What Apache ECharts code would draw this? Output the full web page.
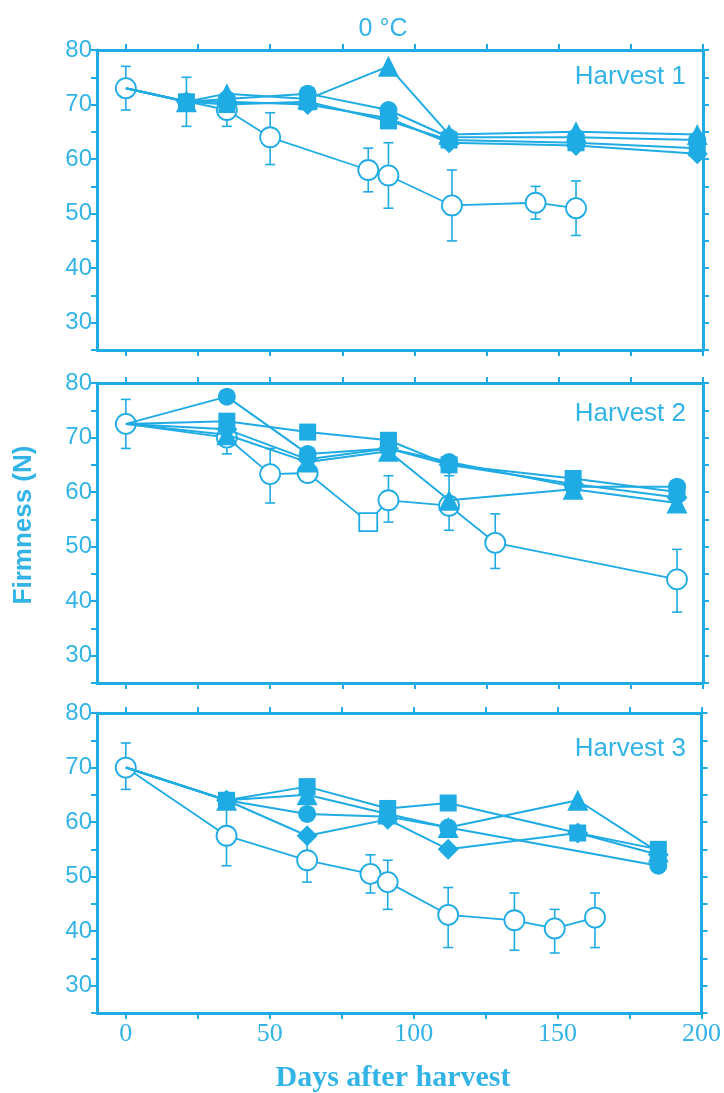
<!DOCTYPE html>
<html><head><meta charset="utf-8">
<script src="https://cdn.jsdelivr.net/npm/echarts@6/dist/echarts.min.js"></script>
<style>html,body{margin:0;padding:0;background:#fff}#c{width:724px;height:1093px}</style>
</head><body><div id="c"></div>
<script>
// ---- tick labels ----
const xTickLabels = [0, 50, 100, 150, 200];
const xTickMarks = [0, 25, 50, 75, 100, 125, 150, 175, 200];
const yTickLabels = [30, 40, 50, 60, 70, 80];
const yTickMarks = [25, 30, 35, 40, 45, 50, 55, 60, 65, 70, 75, 80];
const panelNames = ['Harvest 1', 'Harvest 2', 'Harvest 3'];

// ---- Harvest 1 ----
const h1Open = [[0,73],[35,69],[50,64],[84,58],[91,57],[113,51.5],[142,52],[156,51]];
const h1OpenErr = [[0,69,77],[35,66,72],[50,59,68.5],[84,54,62],[91,51,63],[113,45,58],[142,49,55],[156,46,56]];
const h1FilledErr = [[21,66,75]];
const h1Tri  = [[0,73],[21,70.5],[35,72],[63,71],[91,77],[112,64.5],[156,65],[198,64.5]];
const h1Circ = [[0,73],[21,70.5],[35,71],[63,72],[91,69],[112,64],[156,64],[198,63.5]];
const h1Sq   = [[0,73],[21,70.5],[35,70],[63,70.5],[91,67],[112,63.5],[156,63],[198,62]];
const h1Dia  = [[0,73],[21,70.5],[35,70.5],[63,70],[91,67.5],[112,63],[156,62.5],[198,61]];

// ---- Harvest 2 ----
const h2Open = [[0,72.5],[35,70],[50,63.3],[63,63.5],[84,54.5],[91,58.5],[112,57.5],[128,50.7],[191,44]];
const h2OpenErr = [[0,68,77],[35,67,72],[50,58,68],[91,54.5,63],[112,53,63],[128,46,56],[191,38,49.5]];
const h2Circ = [[0,72.5],[35,77.5],[63,67],[91,68],[112,65.5],[155,61],[191,61]];
const h2Sq   = [[0,72.5],[35,73],[63,71],[91,69.5],[112,65],[155,62.5],[191,60]];
const h2Dia  = [[0,72.5],[35,71.5],[63,66],[91,68],[112,65],[155,61.5],[191,59]];
const h2Tri  = [[0,72.5],[35,70.5],[63,65.5],[91,67.5],[112,58.5],[155,60.5],[191,58]];

// ---- Harvest 3 ----
const h3Open = [[0,70],[35,57.5],[63,53],[85,50.5],[91,49],[112,43],[135,42],[149,40.5],[163,42.5]];
const h3OpenErr = [[0,66,74.5],[35,52,63],[63,49,57],[85,47,54],[91,44,53],[112,37,48],[135,36.5,47],[149,36,44],[163,37,47]];
const h3Sq   = [[0,70],[35,64],[63,66.5],[91,62.5],[112,63.5],[157,58],[185,55]];
const h3Tri  = [[0,70],[35,64],[63,65],[91,61.5],[112,59],[157,64],[185,54.5]];
const h3Circ = [[0,70],[35,64],[63,61.5],[91,61],[112,59],[185,52]];
const h3Dia  = [[0,70],[35,64],[63,57.5],[91,60.5],[112,55],[157,58],[185,54]];

const C = '#1fabe3', T = '#33b4e7';
const panels = [
  {open: h1Open, openErr: h1OpenErr.concat(h1FilledErr), filled: [[h1Tri,'triangle'],[h1Sq,'rect'],[h1Dia,'diamond'],[h1Circ,'circle']], squareAt: null},
  {open: h2Open, openErr: h2OpenErr, filled: [[h2Circ,'circle'],[h2Sq,'rect'],[h2Dia,'diamond'],[h2Tri,'triangle']], squareAt: 84},
  {open: h3Open, openErr: h3OpenErr, filled: [[h3Sq,'rect'],[h3Tri,'triangle'],[h3Circ,'circle'],[h3Dia,'diamond']], squareAt: null}
];
const tops = [50, 383, 713];
const symSize = {triangle: 21, diamond: 21, circle: 18, rect: 17};

const grid = [], xAxis = [], yAxis = [], series = [];
tops.forEach((t, i) => {
  grid.push({left: 97, top: t, width: 606, height: 300});
  const line = {show: true, onZero: false, lineStyle: {color: C, width: 3}};
  const tick = {show: true, length: 6, lineStyle: {color: C, width: 2}};
  ['bottom','top'].forEach(pos => xAxis.push({
    gridIndex: i, type: 'value', min: -10, max: 200, position: pos,
    axisLine: line, axisTick: Object.assign({customValues: xTickMarks}, tick),
    splitLine: {show: false},
    axisLabel: {show: pos === 'bottom' && i === 2, customValues: xTickLabels, color: T,
      fontFamily: 'Liberation Serif', fontSize: 26, margin: 8}
  }));
  ['left','right'].forEach(pos => yAxis.push({
    gridIndex: i, type: 'value', min: 25, max: 80, position: pos,
    axisLine: line, axisTick: Object.assign({customValues: yTickMarks}, tick),
    splitLine: {show: false},
    axisLabel: {show: pos === 'left', customValues: yTickLabels, color: T,
      fontFamily: 'Liberation Sans, sans-serif', fontSize: 24, margin: 5}
  }));
  const p = panels[i];
  series.push({
    type: 'custom', xAxisIndex: 2*i, yAxisIndex: 2*i, z: 1, clip: false,
    data: p.openErr, encode: {x: 0, y: [1, 2]},
    renderItem: function (params, api) {
      const x = api.value(0);
      const a = api.coord([x, api.value(1)]), b = api.coord([x, api.value(2)]);
      const w = 5, st = {stroke: C, lineWidth: 1.6};
      return {type: 'group', children: [
        {type: 'line', shape: {x1: a[0], y1: a[1], x2: b[0], y2: b[1]}, style: st},
        {type: 'line', shape: {x1: a[0]-w, y1: a[1], x2: a[0]+w, y2: a[1]}, style: st},
        {type: 'line', shape: {x1: b[0]-w, y1: b[1], x2: b[0]+w, y2: b[1]}, style: st}
      ]};
    }
  });
  p.filled.forEach(([d, sym]) => series.push({
    type: 'line', xAxisIndex: 2*i, yAxisIndex: 2*i, z: 3, clip: false,
    symbol: sym, symbolSize: symSize[sym],
    lineStyle: {color: C, width: 2}, itemStyle: {color: C},
    data: d.map((v, k) => k === 0 ? {value: v, symbol: 'none'} : v),
    animation: false
  }));
  series.push({
    type: 'line', xAxisIndex: 2*i, yAxisIndex: 2*i, z: 2, clip: false,
    symbol: 'circle', symbolSize: 20,
    lineStyle: {color: C, width: 1.8},
    itemStyle: {color: '#fff', borderColor: C, borderWidth: 1.8},
    data: p.open.map(v => v[0] === p.squareAt ? {value: v, symbol: 'rect', symbolSize: 18} : v),
    animation: false
  });
});

const graphic = [
  {type: 'text', x: 383, y: 29, style: {text: '0 °C', fill: T, font: '25px Liberation Sans', textAlign: 'center', textVerticalAlign: 'middle'}},
  {type: 'text', x: 24, y: 525, rotation: Math.PI/2, style: {text: 'Firmness (N)', fill: T, font: 'bold 26px Liberation Sans', textAlign: 'center', textVerticalAlign: 'middle'}},
  {type: 'text', x: 393, y: 1078, style: {text: 'Days after harvest', fill: T, font: 'bold 30px Liberation Serif', textAlign: 'center', textVerticalAlign: 'middle'}}
];
const labelY = [77, 414, 749];
panelNames.forEach((n, i) => graphic.push({type: 'text', x: 686, y: labelY[i],
  style: {text: n, fill: T, font: '26px Liberation Sans', textAlign: 'right', textVerticalAlign: 'middle'}}));

const chart = echarts.init(document.getElementById('c'), null, {renderer: 'canvas'});
chart.setOption({backgroundColor: '#fff', animation: false, grid, xAxis, yAxis, series, graphic});
</script></body></html>
